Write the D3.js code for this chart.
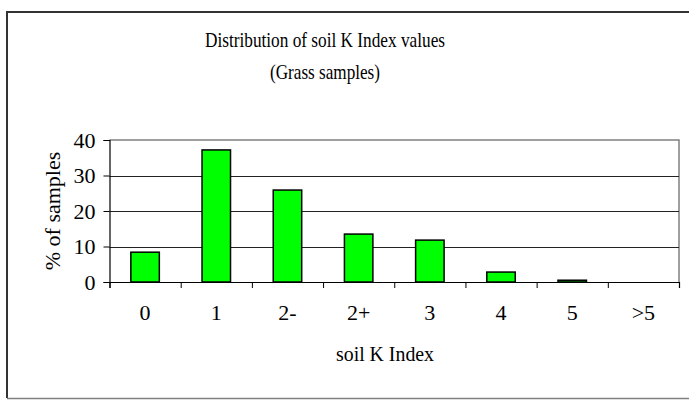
<!DOCTYPE html>
<html>
<head>
<meta charset="utf-8">
<script src="https://cdn.jsdelivr.net/npm/d3@7"></script>
<style>
  body { margin: 0; background: #fff; }
  text { font-family: "Liberation Serif", "Times New Roman", serif; fill: #000; }
</style>
</head>
<body>
<svg id="chart" width="689" height="400"></svg>
<script>
const categories = ['0', '1', '2-', '2+', '3', '4', '5', '>5']
const values = [8.4, 37.2, 25.9, 13.5, 11.8, 2.8, 0.5, 0]
const yTicks = [0, 10, 20, 30, 40]
const titleLines = ['Distribution of soil K Index values', '(Grass samples)']

const svg = d3.select('#chart')
const plotLeft = 109.5
const plotRight = 679
const plotTop = 140
const plotBottom = 282

// outer chart border
svg.append('line').attr('x1', 7).attr('y1', 12).attr('x2', 7).attr('y2', 398)
  .attr('stroke', '#333').attr('stroke-width', 2)
svg.append('line').attr('x1', 6).attr('y1', 12).attr('x2', 689).attr('y2', 12)
  .attr('stroke', '#333').attr('stroke-width', 2)
svg.append('line').attr('x1', 7).attr('y1', 398.5).attr('x2', 689).attr('y2', 398.5)
  .attr('stroke', '#808080').attr('stroke-width', 1.5)

const x = d3.scaleBand()
  .domain(categories)
  .range([plotLeft, plotRight])
  .paddingInner(0.6)
  .paddingOuter(0.3)

const xEdges = d3.scaleLinear().domain([0, categories.length]).range([plotLeft, plotRight])

const y = d3.scaleLinear().domain([0, 40]).range([plotBottom, plotTop])

// plot area border (top and right, gray)
svg.append('path')
  .attr('d', `M${plotLeft},${plotTop}H${plotRight}V${plotBottom}`)
  .attr('fill', 'none')
  .attr('stroke', '#808080')
  .attr('stroke-width', 1.5)

// gridlines
svg.append('g')
  .selectAll('line')
  .data(yTicks.filter(d => d > 0 && d < 40))
  .join('line')
  .attr('x1', plotLeft)
  .attr('x2', plotRight)
  .attr('y1', d => Math.round(y(d)) + 0.5)
  .attr('y2', d => Math.round(y(d)) + 0.5)
  .attr('stroke', '#222')
  .attr('stroke-width', 1)

// bars
svg.append('g')
  .selectAll('rect')
  .data(values)
  .join('rect')
  .attr('x', (d, i) => x(categories[i]))
  .attr('y', d => y(d))
  .attr('width', x.bandwidth())
  .attr('height', d => plotBottom - y(d))
  .attr('fill', '#00ff00')
  .attr('stroke', '#000')
  .attr('stroke-width', 1.5)

// y axis
const yAxis = svg.append('g')
  .attr('transform', `translate(${plotLeft},0)`)
  .call(d3.axisLeft(y).tickValues(yTicks).tickSize(6).tickPadding(8))
yAxis.select('.domain').attr('stroke', '#000').attr('stroke-width', 1.2)
yAxis.selectAll('.tick line').attr('stroke', '#000')
yAxis.selectAll('text')
  .style('font-family', '"Liberation Serif", serif')
  .style('font-size', '22px')

// x axis: tick marks on category edges
const xTickAxis = svg.append('g')
  .attr('transform', `translate(0,${plotBottom})`)
  .call(d3.axisBottom(xEdges).ticks(categories.length).tickSize(6).tickFormat(''))
xTickAxis.select('.domain').attr('stroke', '#000').attr('stroke-width', 1.2)
xTickAxis.selectAll('.tick line').attr('stroke', '#000')

// x axis: category labels
const xLabelAxis = svg.append('g')
  .attr('transform', `translate(0,${plotBottom})`)
  .call(d3.axisBottom(x).tickSize(0).tickPadding(22))
xLabelAxis.select('.domain').remove()
xLabelAxis.selectAll('text')
  .style('font-family', '"Liberation Serif", serif')
  .style('font-size', '22px')

// titles (reference font is narrow, so fit to measured widths)
const titleWidths = [240, 110]
svg.append('g')
  .selectAll('text')
  .data(titleLines)
  .join('text')
  .attr('x', 325)
  .attr('y', (d, i) => 47 + i * 32)
  .attr('text-anchor', 'middle')
  .attr('textLength', (d, i) => titleWidths[i])
  .attr('lengthAdjust', 'spacingAndGlyphs')
  .style('font-size', '21px')
  .text(d => d)

svg.append('text')
  .attr('x', 385)
  .attr('y', 361)
  .attr('text-anchor', 'middle')
  .attr('textLength', 98)
  .attr('lengthAdjust', 'spacingAndGlyphs')
  .style('font-size', '22px')
  .text('soil K Index')

svg.append('text')
  .attr('transform', `translate(60,211) rotate(-90)`)
  .attr('text-anchor', 'middle')
  .style('font-size', '22px')
  .text('% of samples')
</script>
</body>
</html>
